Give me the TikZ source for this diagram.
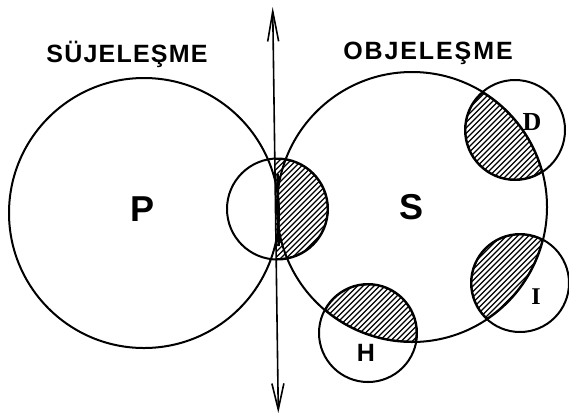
\documentclass[tikz,border=0pt]{standalone}
\usepackage{fontspec}
\setmainfont{Liberation Sans}
\newfontfamily\serifhand{Liberation Serif}
\usetikzlibrary{arrows.meta}
\newcommand\hatchlines{\foreach \c in {0,5.5,...,990} \draw[hatch] (\c,0) -- (\c-416,416);}
\newcommand\gapA{\kern1.2pt}
\newcommand\gapB{\kern1.9pt}
\begin{document}
\begin{tikzpicture}[x=1pt,y=-1pt,
  ring/.style={draw=black, line width=2pt},
  hatch/.style={line width=1.3pt},
  lens/.style={line width=2.8pt},
  axisline/.style={line width=1.6pt, {Straight Barb[length=30pt,width=11pt,line width=1.6pt]}-{Straight Barb[length=26pt,width=12pt,line width=1.6pt]}},
  title/.style={font=\fontsize{25}{25}\selectfont\bfseries, inner sep=0pt},
  biglabel/.style={font=\fontsize{36}{36}\selectfont\bfseries, inner sep=0pt},
  smalllabel/.style={font=\fontsize{25}{25}\selectfont\bfseries, inner sep=0pt}]
\useasboundingbox (0,0) rectangle (569,416);
\fill[white] (0,0) rectangle (569,416);
\coordinate (cP) at (144,213);
\coordinate (cS) at (412,207);
\coordinate (cM) at (277.5,209);
\coordinate (cD) at (515,130);
\coordinate (cI) at (520,283);
\coordinate (cH) at (368,333);
\coordinate (top) at (272.7,7);
\coordinate (bot) at (278.3,413);
\coordinate (bandA) at (277.6,174);
\coordinate (bandB) at (278.6,246);
% hatched lenses
\begin{scope}
  \clip (cS) circle[radius=135pt];
  \clip (cD) circle[radius=50pt];
  \hatchlines
  \draw[lens] (cS) circle[radius=135pt];
  \draw[lens] (cD) circle[radius=50pt];
\end{scope}
\begin{scope}
  \clip (cS) circle[radius=135pt];
  \clip (cI) circle[radius=49pt];
  \hatchlines
  \draw[lens] (cS) circle[radius=135pt];
  \draw[lens] (cI) circle[radius=49pt];
\end{scope}
\begin{scope}
  \clip (cS) circle[radius=135pt];
  \clip (cH) circle[radius=49pt];
  \hatchlines
  \draw[lens] (cS) circle[radius=135pt];
  \draw[lens] (cH) circle[radius=49pt];
\end{scope}
\begin{scope}
  \clip (cM) circle[radius=50.5pt];
  \clip (top) -- (bot) -- (569,416) -- (569,0) -- cycle;
  \hatchlines
  \draw[lens] (cM) circle[radius=50.5pt];
\end{scope}
\draw[line width=2.6pt] (bandA) -- (bandB);
% circles
\draw[ring] (cP) circle[radius=135pt];
\draw[ring] (cS) circle[radius=135pt];
\draw[ring] (cM) circle[radius=50.5pt];
\draw[ring] (cD) circle[radius=50pt];
\draw[ring] (cI) circle[radius=49pt];
\draw[ring] (cH) circle[radius=49pt];
% axis
\draw[axisline] (top) -- (bot);
% labels
\node[title] (t1) at (127,54) {S\gapA Ü\gapA J\gapA E\gapA L\gapA E\gapA Ş\gapA M\gapA E};
\node[title] (t2) at (428,53) {O\gapB B\gapB J\gapB E\gapB L\gapB E\gapB Ş\gapB M\gapB E};
\node[biglabel] (lP) at (143,209) {P};
\node[biglabel] (lS) at (411,207) {S};
\node[smalllabel, font=\fontsize{26}{26}\selectfont\bfseries\serifhand] (lD) at (532,122) {D};
\node[smalllabel, font=\fontsize{24}{24}\selectfont\bfseries\serifhand] (lI) at (536,297) {I};
\node[smalllabel] (lH) at (366,353) {H};
\end{tikzpicture}
\end{document}
